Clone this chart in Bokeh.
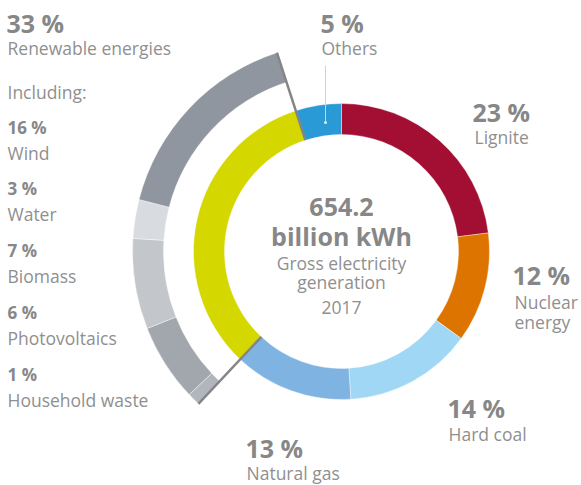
import numpy as np
from bokeh.plotting import figure
from bokeh.models import Range1d, Label, ColumnDataSource
from bokeh.embed import file_html
from bokeh.resources import INLINE

# ---------------- data ----------------
sources = ["Lignite", "Nuclear energy", "Hard coal", "Natural gas", "Renewable energies", "Others"]
shares = [23, 12, 14, 13, 33, 5]
source_colors = ["#a30e33", "#de7400", "#9fd7f4", "#7fb3e1", "#d4d700", "#2a9ad6"]

renewables = ["Household waste", "Photovoltaics", "Biomass", "Water", "Wind"]
renewable_shares = [1, 6, 7, 3, 16]
renewable_colors = ["#b1b6bc", "#a2a7ae", "#c3c7cc", "#d8dbdf", "#8f969f"]

total_label = "654.2"
unit_label = "billion kWh"
subtitle = ["Gross electricity", "generation", "2017"]

# ---------------- layout ----------------
W, H = 581, 485
CX, CY = 341, 251          # centre in screen pixels (y down)
R_IN, R_OUT = 117, 148     # main ring
R2_IN, R2_OUT = 178, 209   # renewable ring
GREY = "#858585"
FONT = "Open Sans"
DY = 6                     # baseline correction for labels

def Y(y):
    return H - y

p = figure(width=W, height=H, x_range=Range1d(0, W), y_range=Range1d(0, H),
           output_backend="svg", toolbar_location=None,
           x_axis_type=None, y_axis_type=None, min_border=0,
           min_border_left=0, min_border_right=0, min_border_top=0, min_border_bottom=0)
p.grid.visible = False
p.outline_line_color = None
p.background_fill_color = "white"
p.border_fill_color = "white"

# main ring: clockwise from 12 o'clock
sh = np.array(shares, dtype=float)
cum_end = np.cumsum(sh) / sh.sum() * 360.0
cum_start = cum_end - sh / sh.sum() * 360.0
start_std = np.radians(90 - cum_end)
end_std = np.radians(90 - cum_start)
src = ColumnDataSource(dict(x=[CX] * len(sh), y=[Y(CY)] * len(sh),
                            start=start_std, end=end_std, color=source_colors, name=sources))
p.annular_wedge(x="x", y="y", inner_radius=R_IN, outer_radius=R_OUT,
                start_angle="start", end_angle="end", fill_color="color",
                line_color="white", line_width=0.4, source=src)

# renewable ring spans the renewables segment
ri = sources.index("Renewable energies")
ren_start_deg = cum_start[ri]
rs = np.array(renewable_shares, dtype=float)
r_end = ren_start_deg + np.cumsum(rs) / sh.sum() * 360.0
r_start = r_end - rs / sh.sum() * 360.0
src2 = ColumnDataSource(dict(x=[CX] * len(rs), y=[Y(CY)] * len(rs),
                             start=np.radians(90 - r_end), end=np.radians(90 - r_start),
                             color=renewable_colors, name=renewables))
p.annular_wedge(x="x", y="y", inner_radius=R2_IN, outer_radius=R2_OUT,
                start_angle="start", end_angle="end", fill_color="color",
                line_color="white", line_width=0.4, source=src2)

# grey bracket lines at the renewable boundaries
for deg in (cum_start[ri], cum_end[ri]):
    a = np.radians(90 - deg)
    x0, y0 = CX + R_IN * np.cos(a), Y(CY) + R_IN * np.sin(a)
    x1, y1 = CX + R2_OUT * np.cos(a), Y(CY) + R2_OUT * np.sin(a)
    p.segment(x0=[x0], y0=[y0], x1=[x1], y1=[y1], line_color=GREY, line_width=2.5)

# leader for "Others"
p.segment(x0=[325], y0=[Y(65)], x1=[325], y1=[Y(122)], line_color="#cfd3d6", line_width=1)
p.scatter(x=[325], y=[Y(122)], size=3, fill_color="#dfe6ea", line_color=None)

TXT = "#8f8f8f"
TXT_B = "#878787"

def lab(x, y, text, size, bold=False, align="left"):
    p.add_layout(Label(x=x, y=Y(y - DY), text=text, text_font=FONT, text_font_size=f"{size}px",
                       text_font_style="bold" if bold else "normal",
                       text_color=TXT_B if bold else TXT,
                       text_align=align, text_baseline="alphabetic"))

PCT = " %"
BIG, MID, NORM = 25, 17, 17.5

# renewables block (left)
lab(6, 28, f"{shares[ri]}{PCT}", BIG, True)
lab(7, 53, "Renewable energies", NORM)
lab(7, 97, "Including:", NORM)
left_rows = [("Wind", 133), ("Water", 194), ("Biomass", 256), ("Photovoltaics", 318), ("Household waste", 380)]
for name, yb in left_rows:
    v = renewable_shares[renewables.index(name)]
    lab(7, yb, f"{v}{PCT}", MID, True)
    lab(7, yb + 25, name, NORM)

# other labels
lab(320, 28, f"{shares[sources.index('Others')]}{PCT}", BIG, True)
lab(321, 53, "Others", NORM)
lab(472, 117, f"{shares[sources.index('Lignite')]}{PCT}", BIG, True)
lab(474, 142, "Lignite", NORM)
lab(512, 280, f"{shares[sources.index('Nuclear energy')]}{PCT}", BIG, True)
lab(514, 307, "Nuclear", NORM)
lab(514, 327, "energy", NORM)
lab(447, 413, f"{shares[sources.index('Hard coal')]}{PCT}", BIG, True)
lab(448, 439, "Hard coal", NORM)
lab(245, 453, f"{shares[sources.index('Natural gas')]}{PCT}", BIG, True)
lab(246, 478, "Natural gas", NORM)

# centre
lab(CX, 212, total_label, 25, True, "center")
lab(CX, 241, unit_label, 25, True, "center")
lab(CX, 268, subtitle[0], NORM, False, "center")
lab(CX, 287, subtitle[1], NORM, False, "center")
lab(CX, 313, subtitle[2], NORM, False, "center")

open("out.html", "w").write(file_html(p, INLINE))
